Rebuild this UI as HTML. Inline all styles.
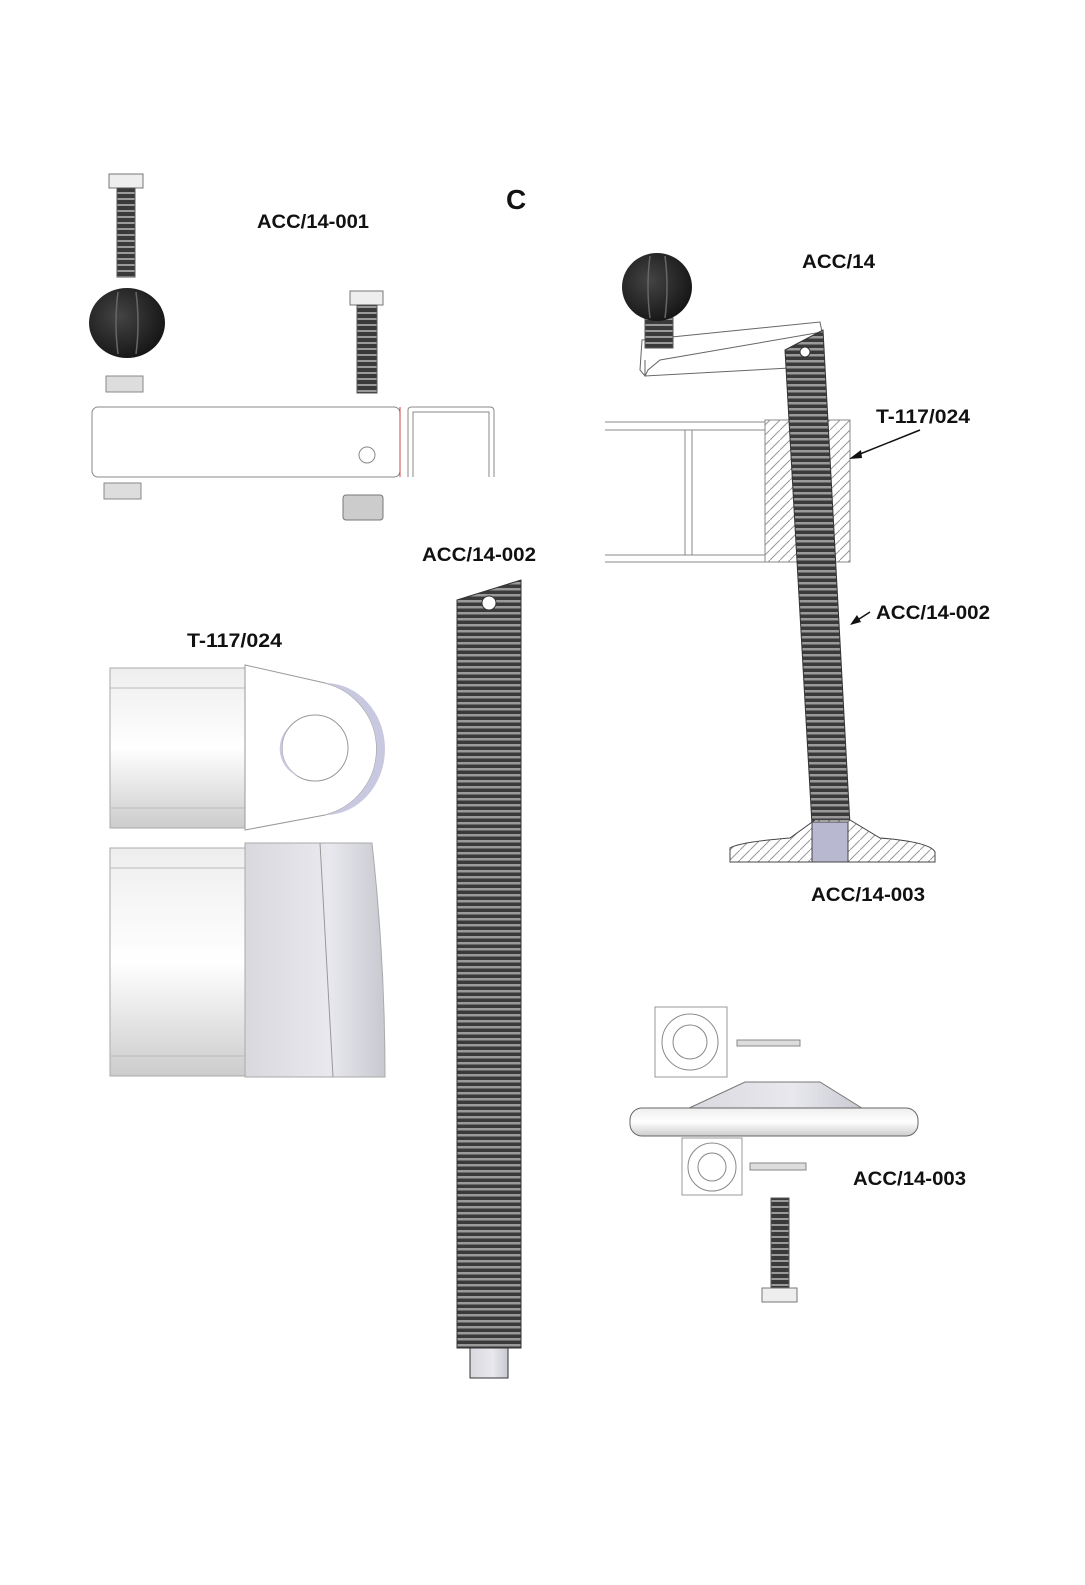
<!DOCTYPE html>
<html><head><meta charset="utf-8"><style>
html,body{margin:0;padding:0;background:#fff;}
svg{display:block;}
text{font-family:"Liberation Sans",sans-serif;font-weight:bold;fill:#111;}
</style></head><body>
<svg width="1085" height="1585" viewBox="0 0 1085 1585" xmlns="http://www.w3.org/2000/svg">
<defs>
<pattern id="thr" width="8" height="6" patternUnits="userSpaceOnUse">
<rect width="8" height="6" fill="#3a3a3a"/><rect y="0" width="8" height="2" fill="#9a9a9a"/>
</pattern>
<pattern id="thr2" width="8" height="6" patternUnits="userSpaceOnUse">
<rect width="8" height="6" fill="#3a3a3a"/><rect y="0" width="8" height="2.5" fill="#9a9a9a"/>
</pattern>
<pattern id="hatch" width="10" height="10" patternUnits="userSpaceOnUse">
<rect width="10" height="10" fill="#fff"/><path d="M0,10 L10,0" stroke="#999" stroke-width="1"/>
</pattern>
<linearGradient id="gv" x1="0" y1="0" x2="0" y2="1">
<stop offset="0" stop-color="#eee"/><stop offset="0.5" stop-color="#fff"/><stop offset="1" stop-color="#ccc"/>
</linearGradient>
<linearGradient id="gh" x1="0" y1="0" x2="1" y2="0">
<stop offset="0" stop-color="#d8d8de"/><stop offset="0.6" stop-color="#e8e8ee"/><stop offset="1" stop-color="#c8c8d0"/>
</linearGradient>
<radialGradient id="knob" cx="0.4" cy="0.4" r="0.7">
<stop offset="0" stop-color="#444"/><stop offset="1" stop-color="#111"/>
</radialGradient>
</defs>
<rect width="1085" height="1585" fill="#fff"/>

<text x="506" y="209" font-size="28">C</text>
<text x="257" y="228" font-size="19" textLength="112" lengthAdjust="spacingAndGlyphs">ACC/14-001</text>

<!-- bolt 1 -->
<rect x="109" y="174" width="34" height="14" fill="#eee" stroke="#777"/>
<rect x="117" y="188" width="18" height="89" fill="url(#thr)" stroke="#555"/>
<ellipse cx="127" cy="323" rx="38" ry="35" fill="url(#knob)"/>
<path d="M118,292 Q114,323 118,354 M136,292 Q140,323 136,354" stroke="#666" fill="none" stroke-width="1.5"/>
<rect x="106" y="376" width="37" height="16" fill="#ddd" stroke="#888"/>
<rect x="92" y="407" width="308" height="70" rx="6" fill="#fff" stroke="#888"/>
<circle cx="367" cy="455" r="8" fill="#fff" stroke="#888"/>
<line x1="400" y1="407" x2="400" y2="477" stroke="#c44"/>
<path d="M408,477 L408,410 Q408,407 412,407 L490,407 Q494,407 494,411 L494,477 M413,477 L413,412 L489,412 L489,477" fill="none" stroke="#888"/>
<rect x="104" y="483" width="37" height="16" fill="#ddd" stroke="#888"/>
<rect x="350" y="291" width="33" height="14" fill="#eee" stroke="#777"/>
<rect x="357" y="305" width="20" height="88" fill="url(#thr)" stroke="#555"/>
<rect x="343" y="495" width="40" height="25" rx="3" fill="#ccc" stroke="#777"/>

<!-- long rod -->
<text x="422" y="561" font-size="19" textLength="114" lengthAdjust="spacingAndGlyphs">ACC/14-002</text>
<path d="M457,600 L521,580 L521,1348 L457,1348 Z" fill="url(#thr2)" stroke="#333"/>
<circle cx="489" cy="603" r="7" fill="#fff" stroke="#333"/>
<rect x="470" y="1348" width="38" height="30" fill="url(#gh)" stroke="#333"/>

<!-- T-117 -->
<text x="187" y="647" font-size="19" textLength="95" lengthAdjust="spacingAndGlyphs">T-117/024</text>
<rect x="110" y="668" width="135" height="160" fill="url(#gv)" stroke="#aaa"/>
<line x1="110" y1="688" x2="245" y2="688" stroke="#bbb"/>
<line x1="110" y1="808" x2="245" y2="808" stroke="#bbb"/>
<path d="M245,665 L325,683 A68,68 0 0 1 325,815 L245,830 Z" fill="#fff" stroke="#999"/>
<path d="M325,683 A68,68 0 0 1 325,815 A60,66 0 0 0 325,683Z" fill="#c8c8e0"/>
<circle cx="315" cy="748" r="33" fill="#fff" stroke="#999"/>
<path d="M290,726 A33,33 0 0 0 300,777 A30,30 0 0 1 290,726Z" fill="#c8c8e0"/>
<rect x="110" y="848" width="135" height="228" fill="url(#gv)" stroke="#aaa"/>
<line x1="110" y1="868" x2="245" y2="868" stroke="#bbb"/>
<line x1="110" y1="1056" x2="245" y2="1056" stroke="#bbb"/>
<path d="M245,843 L372,843 Q385,960 385,1077 L245,1077 Z" fill="url(#gh)" stroke="#aaa"/>
<line x1="320" y1="843" x2="333" y2="1077" stroke="#999"/>

<!-- right assembly -->
<text x="802" y="268" font-size="19" textLength="73" lengthAdjust="spacingAndGlyphs">ACC/14</text>
<rect x="605" y="420" width="165" height="142" fill="#fff"/>
<line x1="605" y1="422" x2="770" y2="422" stroke="#888"/>
<line x1="605" y1="430" x2="770" y2="430" stroke="#888"/>
<line x1="605" y1="555" x2="770" y2="555" stroke="#888"/>
<line x1="605" y1="562" x2="770" y2="562" stroke="#888"/>
<rect x="685" y="430" width="82" height="125" fill="#fff" stroke="#888"/>
<line x1="692" y1="430" x2="692" y2="555" stroke="#888"/>
<rect x="765" y="420" width="85" height="142" fill="url(#hatch)" stroke="#888"/>
<path d="M642,340 L820,322 L822,332 L660,360 L648,370 L645,376 L640,370 Z" fill="#fff" stroke="#666"/>
<path d="M645,360 L645,376 L790,368" fill="none" stroke="#666"/>
<rect x="645" y="318" width="28" height="30" fill="url(#thr)" stroke="#555"/>
<ellipse cx="657" cy="287" rx="35" ry="34" fill="url(#knob)"/>
<path d="M650,256 Q646,287 650,318 M665,256 Q669,287 665,318" stroke="#666" fill="none" stroke-width="1.5"/>
<path d="M785,350 L823,330 L850,825 L812,825 Z" fill="url(#thr2)" stroke="#333"/>
<circle cx="805" cy="352" r="5" fill="#fff" stroke="#333"/>
<path d="M730,862 L730,848 Q740,842 790,838 L815,820 L850,820 L880,838 Q930,842 935,852 L935,862 Z" fill="url(#hatch)" stroke="#444"/>
<rect x="812" y="822" width="36" height="40" fill="#b8b8d0" stroke="#444"/>
<text x="876" y="423" font-size="19" textLength="94" lengthAdjust="spacingAndGlyphs">T-117/024</text>
<line x1="920" y1="430" x2="855" y2="456" stroke="#111" stroke-width="1.5"/>
<path d="M849,459 L861,450 L862,458 Z" fill="#111"/>
<text x="876" y="619" font-size="19" textLength="114" lengthAdjust="spacingAndGlyphs">ACC/14-002</text>
<line x1="870" y1="612" x2="856" y2="621" stroke="#111" stroke-width="1.5"/>
<path d="M850,625 L857,615 L861,622 Z" fill="#111"/>
<text x="811" y="901" font-size="19" textLength="114" lengthAdjust="spacingAndGlyphs">ACC/14-003</text>

<!-- bottom right exploded -->
<rect x="655" y="1007" width="72" height="70" fill="#fff" stroke="#999"/>
<circle cx="690" cy="1042" r="28" fill="#fff" stroke="#888"/>
<circle cx="690" cy="1042" r="17" fill="#fff" stroke="#888"/>
<rect x="737" y="1040" width="63" height="6" fill="#ddd" stroke="#888"/>
<path d="M685,1110 L745,1082 L820,1082 L865,1110 Z" fill="url(#gh)" stroke="#777"/>
<rect x="630" y="1108" width="288" height="28" rx="12" fill="url(#gv)" stroke="#666"/>
<rect x="682" y="1138" width="60" height="57" fill="#fff" stroke="#999"/>
<circle cx="712" cy="1167" r="24" fill="#fff" stroke="#888"/>
<circle cx="712" cy="1167" r="14" fill="#fff" stroke="#888"/>
<rect x="750" y="1163" width="56" height="7" fill="#ddd" stroke="#888"/>
<text x="853" y="1185" font-size="19" textLength="113" lengthAdjust="spacingAndGlyphs">ACC/14-003</text>
<rect x="771" y="1198" width="18" height="90" fill="url(#thr)" stroke="#555"/>
<rect x="762" y="1288" width="35" height="14" fill="#eee" stroke="#777"/>
</svg>
</body></html>
